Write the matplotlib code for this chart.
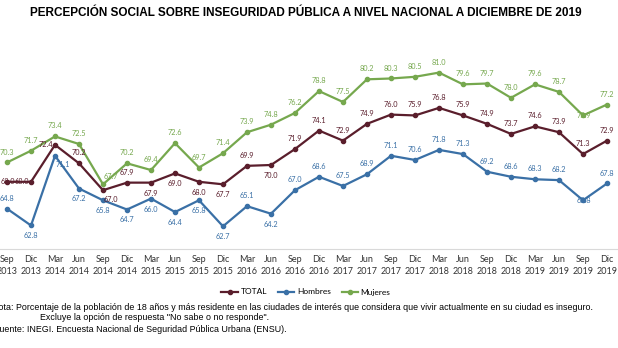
import numpy as np
import matplotlib.pyplot as plt
from matplotlib.lines import Line2D

# Periods
months = ['Sep', 'Dic', 'Mar', 'Jun'] * 7
months = months[:26]
years = ['2013', '2013'] + [y for y in ['2014', '2015', '2016', '2017', '2018', '2019'] for _ in range(4)]
labels = [m + '\n' + y for m, y in zip(months, years)]

# Series (%)
total = [68.0, 68.0, 72.4, 70.2, 67.0, 67.9, 67.9, 69.0, 68.0, 67.7, 69.9, 70.0, 71.9,
         74.1, 72.9, 74.9, 76.0, 75.9, 76.8, 75.9, 74.9, 73.7, 74.6, 73.9, 71.3, 72.9]
hombres = [64.8, 62.8, 71.1, 67.2, 65.8, 64.7, 66.0, 64.4, 65.8, 62.7, 65.1, 64.2, 67.0,
           68.6, 67.5, 68.9, 71.1, 70.6, 71.8, 71.3, 69.2, 68.6, 68.3, 68.2, 65.8, 67.8]
mujeres = [70.3, 71.7, 73.4, 72.5, 67.7, 70.2, 69.4, 72.6, 69.7, 71.4, 73.9, 74.8, 76.2,
           78.8, 77.5, 80.2, 80.3, 80.5, 81.0, 79.6, 79.7, 78.0, 79.6, 78.7, 75.9, 77.2]

# label placement: a=above, b=below, l=left, c=centre, ar/br = above/below right
pos_total = ['a'] * 26
for i, p in {0: 'c', 1: 'l', 2: 'l', 4: 'br', 6: 'b', 7: 'b', 8: 'b', 9: 'b', 11: 'b'}.items():
    pos_total[i] = p
pos_hombres = ['a'] * 26
for i in [1, 2, 3, 4, 5, 6, 7, 8, 9, 11]:
    pos_hombres[i] = 'b'
pos_hombres[2] = 'br'
pos_hombres[24] = 'c'
pos_mujeres = ['a'] * 26
pos_mujeres[4] = 'ar'
pos_mujeres[24] = 'c'

c_total = '#5a1e2c'
c_hom = '#3a70a6'
c_muj = '#76a84e'

plt.rcParams['font.family'] = ['Lato', 'DejaVu Sans']

fig = plt.figure(figsize=(6.18, 3.48), dpi=100)
ax = fig.add_axes([-5 / 618, 99 / 348, 624 / 618, 210 / 348])
x = np.arange(len(labels))

offsets = {'a': (0, 5, 'center', 'bottom'), 'b': (0, -5, 'center', 'top'),
           'l': (-1.5, 0, 'right', 'center'), 'c': (0.5, 0, 'center', 'center'),
           'ar': (6, 3, 'center', 'bottom'), 'br': (6, -4, 'center', 'top')}

for vals, pos, col in [(mujeres, pos_mujeres, c_muj), (total, pos_total, c_total),
                       (hombres, pos_hombres, c_hom)]:
    ax.plot(x, vals, color=col, lw=1.6, marker='o', ms=3)
    for xi, v, p in zip(x, vals, pos):
        dx, dy, ha, va = offsets[p]
        ax.annotate(f'{v:.1f}', (xi, v), xytext=(dx, dy), textcoords='offset points',
                    ha=ha, va=va, fontsize=5.3, color=col)

ax.set_xlim(-0.5, 25.5)
ax.set_ylim(60, 85)
ax.set_xticks(x)
ax.set_xticklabels(labels, fontsize=6.5, color='#333333', linespacing=1.5)
ax.tick_params(axis='x', length=0, pad=4)
ax.set_yticks([])
for s in ['top', 'left', 'right']:
    ax.spines[s].set_visible(False)
ax.spines['bottom'].set_color('#d9d9d9')

handles = [Line2D([], [], color=c, lw=1.6, marker='o', ms=3) for c in (c_total, c_hom, c_muj)]
fig.legend(handles, ['TOTAL', 'Hombres', 'Mujeres'], loc='center', bbox_to_anchor=(0.495, 1 - 292 / 348),
           ncol=3, frameon=False, fontsize=6, handlelength=2.0, columnspacing=1.3, handletextpad=0.3)

fig.text(0.495, 1 - 13 / 348, 'PERCEPCIÓN SOCIAL SOBRE INSEGURIDAD PÚBLICA A NIVEL NACIONAL A DICIEMBRE DE 2019',
         ha='center', va='center', fontsize=8.5, fontweight='bold', family='Liberation Sans')
fig.text(-8 / 618, 1 - 307 / 348, 'Nota: Porcentaje de la población de 18 años y más residente en las ciudades de interés '
         'que considera que vivir actualmente en su ciudad es inseguro.',
         ha='left', va='center', fontsize=6.4, family='Liberation Sans')
fig.text(40 / 618, 1 - 318 / 348, 'Excluye la opción de respuesta "No sabe o no responde".',
         ha='left', va='center', fontsize=6.4, family='Liberation Sans')
fig.text(-6 / 618, 1 - 330 / 348, 'Fuente: INEGI. Encuesta Nacional de Seguridad Pública Urbana (ENSU).',
         ha='left', va='center', fontsize=6.4, family='Liberation Sans')

fig.savefig('out.png', dpi=100)
